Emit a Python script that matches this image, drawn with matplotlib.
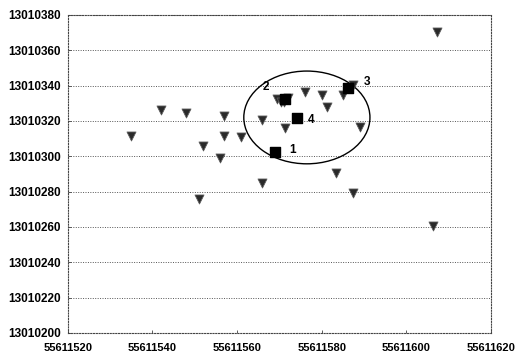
import matplotlib
matplotlib.use("Agg")
import matplotlib.pyplot as plt
from matplotlib.patches import Ellipse

X0 = 55611000
Y0 = 13010000

# Survey points (offsets added to the base coordinates)
pts_x = [535, 542, 548, 557, 557, 561, 552, 556, 551, 566, 566, 571.4,
         569.5, 571, 572, 570.5, 576, 580, 581.3, 585, 589, 583.4, 587.3,
         606.2, 607.2, 587.4]
pts_y = [311.4, 326, 324.5, 322.8, 311.4, 311, 305.8, 299, 276, 320.5, 285,
         316, 332.5, 331, 333, 330.5, 336.4, 334.7, 328, 334.7, 316.5, 290.5,
         279, 260.5, 370.6, 340.3]

# Reference stations
st_x = [569, 571.3, 586.2, 574.2]
st_y = [302.5, 332.5, 338.6, 321.5]
st_labels = ["1", "2", "3", "4"]
st_label_dx = [4.2, -4.6, 4.6, 3.4]
st_label_dy = [1.0, 7.0, 3.2, -1.0]

# Error ellipse
ell_cx, ell_cy = 576.5, 322.0
ell_w, ell_h = 29.8, 52.5

x_ticks = [55611520, 55611540, 55611560, 55611580, 55611600, 55611620]
y_ticks = [13010200, 13010220, 13010240, 13010260, 13010280, 13010300,
           13010320, 13010340, 13010360, 13010380]

fig = plt.figure(figsize=(5.18, 3.53), dpi=100)
ax = fig.add_axes([0.1307, 0.0567, 0.8172, 0.9009])

px = [X0 + v for v in pts_x]
py = [Y0 + v for v in pts_y]
ax.scatter(px, py, marker="v", s=42, color="#2a2a2a", edgecolors="#5a5a5a",
           linewidths=0.6, zorder=3)

sx = [X0 + v for v in st_x]
sy = [Y0 + v for v in st_y]
ax.scatter(sx, sy, marker="s", s=42, color="black", zorder=4)
for x, y, lab, dx, dy in zip(sx, sy, st_labels, st_label_dx, st_label_dy):
    ax.text(x + dx, y + dy, lab, fontsize=8.5, fontfamily="Liberation Sans",
            fontweight="bold", ha="center", va="center", zorder=5)

ax.add_patch(Ellipse((X0 + ell_cx, Y0 + ell_cy), ell_w, ell_h, fill=False,
                     edgecolor="black", linewidth=1.0, zorder=2))

ax.set_xlim(x_ticks[0], x_ticks[-1])
ax.set_ylim(y_ticks[0], y_ticks[-1])
ax.set_xticks(x_ticks)
ax.set_yticks(y_ticks)
ax.set_xticklabels([str(v) for v in x_ticks])
ax.set_yticklabels([str(v) for v in y_ticks])
for lab in ax.get_yticklabels():
    lab.set_fontfamily("Liberation Sans")
    lab.set_fontweight("bold")
    lab.set_fontsize(8.5)
for lab in ax.get_xticklabels():
    lab.set_fontfamily("Liberation Sans")
    lab.set_fontweight("bold")
    lab.set_fontsize(8)
ax.tick_params(axis="both", direction="in", length=2, width=0.6,
               colors="#444444", labelcolor="black")
ax.tick_params(axis="y", pad=5)
ax.tick_params(axis="x", pad=7)

ax.grid(axis="y", linestyle=(0, (1, 1.5)), color="#555555", linewidth=0.7)
for sp in ax.spines.values():
    sp.set_linestyle((0, (1, 1.5)))
    sp.set_color("#444444")
    sp.set_linewidth(0.8)
ax.set_axisbelow(True)

fig.savefig("out.png", dpi=100)
